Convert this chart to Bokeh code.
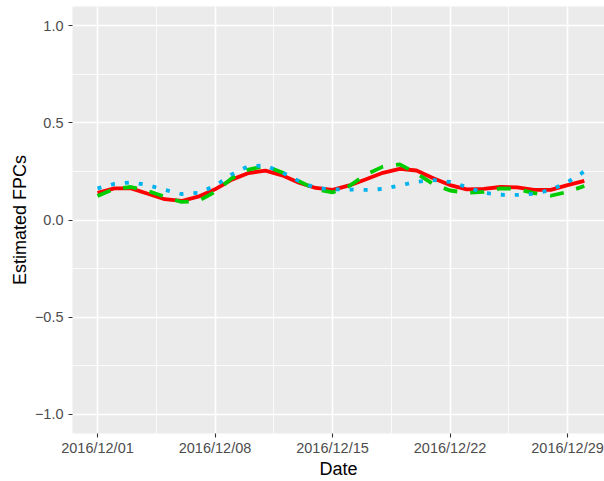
import pandas as pd
from bokeh.plotting import figure
from bokeh.models import Range1d, FixedTicker, CustomJSTickFormatter
from bokeh.embed import file_html
from bokeh.resources import INLINE

# ---- data ----
start_date = "2016-12-01"
n_days = 30
fpc_red = [0.140, 0.163, 0.163, 0.135, 0.107, 0.098, 0.120, 0.158, 0.208, 0.242,
           0.254, 0.230, 0.192, 0.165, 0.155, 0.178, 0.210, 0.243, 0.263, 0.255,
           0.215, 0.180, 0.158, 0.160, 0.170, 0.168, 0.155, 0.155, 0.180, 0.202]
fpc_green = [0.124, 0.160, 0.170, 0.150, 0.120, 0.093, 0.098, 0.145, 0.215, 0.260,
             0.278, 0.245, 0.200, 0.158, 0.142, 0.175, 0.235, 0.275, 0.287, 0.240,
             0.185, 0.152, 0.140, 0.145, 0.163, 0.160, 0.138, 0.125, 0.145, 0.175]
fpc_blue = [0.163, 0.186, 0.194, 0.180, 0.155, 0.134, 0.140, 0.175, 0.235, 0.278,
            0.280, 0.245, 0.200, 0.165, 0.158, 0.157, 0.155, 0.160, 0.178, 0.197,
            0.206, 0.196, 0.170, 0.140, 0.130, 0.129, 0.135, 0.155, 0.195, 0.250]
x_tick_dates = ["2016-12-01", "2016-12-08", "2016-12-15", "2016-12-22", "2016-12-29"]
x_tick_labels = ["2016/12/01", "2016/12/08", "2016/12/15", "2016/12/22", "2016/12/29"]
y_ticks = [-1.0, -0.5, 0.0, 0.5, 1.0]
y_minor = [-0.75, -0.25, 0.25, 0.75]

dates = pd.date_range(start_date, periods=n_days, freq="D")

def ms(ts):
    return pd.Timestamp(ts).value / 1e6

day_ms = 86400000.0
x_major = [ms(d) for d in x_tick_dates]
x_minor = [(a + b) / 2 for a, b in zip(x_major[:-1], x_major[1:])]

x0 = ms(start_date)
p = figure(width=604, height=481, x_axis_type="datetime",
           x_range=Range1d(x0 - 1.489 * day_ms, x0 + 30.2 * day_ms),
           y_range=Range1d(-1.1, 1.1),
           output_backend="svg", toolbar_location=None,
           min_border_left=72, min_border_right=0, min_border_top=6,
           min_border_bottom=47)

p.background_fill_color = "#EBEBEB"
p.border_fill_color = "white"
p.outline_line_color = None

# ticks
p.xaxis.ticker = FixedTicker(ticks=x_major, minor_ticks=x_minor)
p.yaxis.ticker = FixedTicker(ticks=y_ticks, minor_ticks=y_minor)
p.xaxis.major_label_overrides = {t: l for t, l in zip(x_major, x_tick_labels)}
p.yaxis.formatter = CustomJSTickFormatter(
    code="return tick.toFixed(1).replace('-', '\u2212');")

for ax in (p.xaxis[0], p.yaxis[0]):
    ax.axis_line_color = None
    ax.major_tick_line_color = "#333333"
    ax.major_tick_line_width = 1.1
    ax.major_tick_out = 4
    ax.major_tick_in = 0
    ax.minor_tick_line_color = None
    ax.major_label_text_font = "Liberation Sans"
    ax.major_label_text_font_size = "14.5px"
    ax.major_label_text_color = "#4D4D4D"
    ax.axis_label_text_font = "Liberation Sans"
    ax.axis_label_text_font_size = "18px"
    ax.axis_label_text_font_style = "normal"
    ax.axis_label_text_color = "black"

p.xaxis.axis_label = "Date"
p.yaxis.axis_label = "Estimated FPCs"
p.xaxis.major_label_standoff = 2
p.yaxis.major_label_standoff = 5
p.xaxis.axis_label_standoff = 0
p.yaxis.axis_label_standoff = 2

for g in (p.xgrid[0], p.ygrid[0]):
    g.grid_line_color = "white"
    g.grid_line_width = 1.6
    g.minor_grid_line_color = "white"
    g.minor_grid_line_width = 0.8

# lines
p.line(dates, fpc_red, line_color="#FF0000", line_width=3.8)
p.line(dates, fpc_green, line_color="#00CD00", line_width=3.8,
       line_dash="14 13", line_cap="butt")
p.line(dates, fpc_blue, line_color="#00B2EE", line_width=3.8,
       line_dash="4 10", line_cap="butt")

open("out.html", "w").write(file_html(p, INLINE))
